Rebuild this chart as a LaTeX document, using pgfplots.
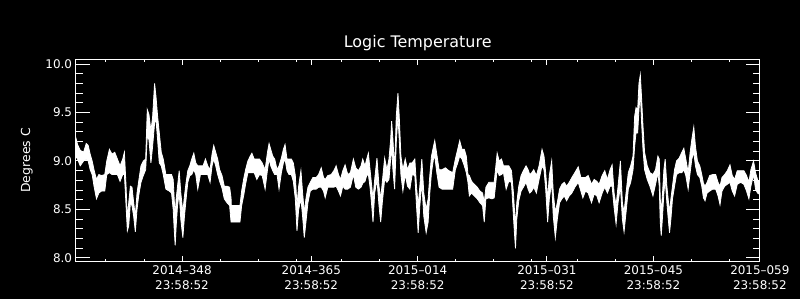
\documentclass[border=0pt]{standalone}
\usepackage{pgfplots}
\pgfplotsset{compat=1.18}
\usepackage{pgfplotstable}
\usepgfplotslibrary{fillbetween}
\usepackage{fontspec}
\setmainfont{DejaVu Sans}

\pgfplotstableread{
d hi lo
334.00 9.25 9.05
334.26 9.17 9.02
334.61 9.11 8.95
335.05 9.09 9.00
335.40 9.18 9.02
335.66 9.16 9.00
335.92 9.07 8.91
336.18 9.00 8.86
336.45 8.90 8.73
336.75 8.81 8.61
337.06 8.86 8.67
337.41 8.85 8.69
337.84 8.86 8.69
338.10 9.00 8.86
338.45 9.12 8.88
338.80 9.07 8.86
339.15 9.09 8.86
339.50 9.02 8.86
339.85 8.95 8.79
340.20 9.02 8.86
340.42 9.09 8.86
340.64 8.74 8.54
340.81 8.40 8.28
340.99 8.57 8.33
341.21 8.74 8.57
341.42 8.73 8.54
341.64 8.57 8.43
341.86 8.43 8.27
342.08 8.67 8.50
342.30 8.79 8.64
342.60 8.95 8.78
342.91 9.00 8.85
343.22 9.02 8.91
343.43 9.53 9.26
343.65 9.48 9.22
343.91 9.31 8.98
344.13 9.45 9.15
344.39 9.80 9.39
344.57 9.67 9.43
344.79 9.46 9.22
345.01 9.29 8.98
345.27 9.09 8.95
345.53 9.02 8.86
345.88 8.86 8.71
346.32 8.86 8.69
346.62 8.86 8.67
346.84 8.81 8.50
346.97 8.61 8.30
347.10 8.43 8.13
347.23 8.61 8.33
347.41 8.74 8.54
347.63 8.90 8.67
347.84 8.67 8.40
348.11 8.47 8.21
348.32 8.64 8.43
348.54 8.78 8.61
348.76 8.90 8.78
349.02 8.95 8.85
349.28 9.02 8.86
349.55 9.08 8.91
349.81 8.98 8.86
350.07 8.95 8.71
350.42 8.95 8.86
350.77 8.95 8.86
351.08 9.02 8.86
351.38 8.95 8.86
351.69 8.91 8.78
351.95 9.07 8.95
352.17 9.16 9.02
352.43 9.09 8.95
352.69 9.02 8.86
352.95 8.91 8.79
353.26 8.85 8.72
353.56 8.74 8.61
353.91 8.74 8.57
354.26 8.73 8.54
354.45 8.62 8.37
354.48 8.54 8.37
355.05 8.54 8.37
355.62 8.54 8.37
355.84 8.69 8.54
356.10 8.81 8.64
356.36 8.91 8.76
356.66 9.00 8.88
356.97 9.05 8.88
357.19 9.08 8.88
357.49 9.02 8.88
357.84 9.02 8.81
358.19 9.02 8.86
358.54 8.98 8.85
358.93 8.91 8.71
359.24 9.09 8.91
359.45 9.18 9.02
359.67 9.12 8.95
359.93 9.05 8.90
360.19 9.02 8.86
360.50 8.91 8.86
360.76 8.95 8.71
361.07 9.03 8.88
361.33 9.12 8.98
361.55 9.17 9.02
361.81 9.02 8.90
362.07 9.02 8.86
362.38 9.02 8.86
362.64 8.98 8.79
362.90 8.85 8.61
363.12 8.54 8.28
363.34 8.74 8.50
363.64 8.90 8.61
363.86 8.67 8.43
364.08 8.47 8.21
364.30 8.61 8.37
364.56 8.73 8.57
364.87 8.78 8.69
365.22 8.83 8.71
365.65 8.83 8.71
365.96 8.86 8.73
366.31 8.93 8.73
366.61 8.83 8.69
366.83 8.81 8.62
367.18 8.85 8.73
367.62 8.86 8.73
367.97 8.90 8.73
368.27 8.95 8.74
368.58 8.86 8.69
368.84 8.81 8.64
369.15 8.90 8.74
369.45 8.96 8.71
369.80 8.86 8.71
370.15 8.88 8.73
370.54 9.02 8.86
370.85 8.93 8.73
371.20 8.90 8.71
371.55 8.95 8.73
371.77 9.02 8.77
372.07 8.95 8.79
372.29 9.02 8.85
372.51 9.08 8.86
372.73 8.91 8.73
372.95 8.74 8.54
373.12 8.61 8.37
373.34 8.81 8.67
373.64 9.03 8.81
373.91 8.74 8.54
374.13 8.61 8.37
374.34 8.78 8.57
374.65 9.03 8.81
374.95 8.91 8.78
375.22 9.02 8.81
375.44 9.22 9.02
375.57 9.41 9.15
375.74 9.22 8.91
375.96 8.91 8.71
376.18 9.46 9.19
376.40 9.70 9.46
376.57 9.46 9.22
376.79 9.05 8.86
377.05 8.91 8.69
377.36 9.02 8.86
377.66 8.91 8.74
377.97 8.98 8.71
378.27 8.98 8.86
378.62 9.02 8.85
378.84 8.74 8.54
379.06 8.54 8.26
379.28 8.74 8.54
379.54 9.02 8.78
379.80 8.67 8.43
380.11 8.50 8.26
380.37 8.61 8.37
380.59 8.85 8.67
380.81 9.05 8.88
381.07 9.15 9.02
381.24 9.21 9.05
381.51 9.07 8.88
381.81 8.91 8.73
382.20 8.91 8.71
382.64 8.93 8.71
383.08 8.90 8.71
383.60 8.88 8.71
383.95 9.02 8.91
384.26 9.12 8.98
384.52 9.21 9.05
384.82 9.12 9.02
385.13 9.12 8.95
385.39 9.05 8.88
385.61 8.86 8.78
385.79 8.85 8.64
386.09 8.79 8.67
386.44 8.76 8.64
386.83 8.73 8.61
387.18 8.69 8.57
387.53 8.67 8.54
387.75 8.57 8.37
387.97 8.73 8.61
388.36 8.78 8.62
388.76 8.78 8.61
389.06 8.78 8.62
389.28 8.95 8.78
389.45 9.08 8.91
389.72 9.00 8.85
390.02 9.02 8.86
390.28 8.95 8.88
390.63 8.95 8.71
390.98 8.95 8.79
391.33 8.90 8.78
391.59 8.67 8.43
391.72 8.50 8.26
391.86 8.33 8.10
392.03 8.57 8.40
392.29 8.74 8.59
392.60 8.85 8.69
392.90 8.90 8.73
393.25 8.95 8.78
393.52 8.91 8.71
393.73 8.86 8.67
394.00 8.88 8.69
394.26 8.91 8.73
394.61 8.85 8.67
394.96 8.95 8.81
395.35 9.12 8.95
395.61 9.05 8.91
395.83 8.88 8.71
396.09 8.61 8.37
396.31 8.85 8.61
396.62 9.00 8.78
396.83 8.67 8.43
397.10 8.47 8.21
397.36 8.57 8.40
397.66 8.71 8.57
397.97 8.76 8.61
398.28 8.78 8.64
398.58 8.74 8.59
398.93 8.78 8.64
399.28 8.83 8.67
399.67 8.88 8.73
400.11 8.94 8.78
400.46 8.83 8.69
400.72 8.83 8.62
401.07 8.83 8.69
401.42 8.85 8.67
401.86 8.76 8.57
402.21 8.81 8.66
402.56 8.79 8.64
402.86 8.76 8.57
403.26 8.85 8.67
403.60 8.90 8.73
403.95 8.81 8.67
404.30 8.91 8.74
404.57 8.96 8.74
404.83 8.67 8.52
405.09 8.54 8.35
405.35 8.74 8.57
405.66 9.00 8.74
405.92 8.57 8.40
406.14 8.47 8.27
406.40 8.67 8.47
406.70 8.88 8.71
407.01 8.95 8.78
407.32 9.05 8.91
407.53 9.46 9.15
407.71 9.55 9.29
407.93 9.53 9.29
408.10 9.80 9.53
408.28 9.89 9.70
408.45 9.64 9.39
408.63 9.36 9.12
408.84 9.09 8.91
409.19 8.95 8.81
409.54 8.88 8.74
409.94 8.86 8.64
410.28 8.91 8.76
410.59 9.05 8.88
410.77 9.02 8.74
410.90 8.61 8.37
411.03 8.47 8.23
411.20 8.67 8.43
411.38 8.91 8.67
411.55 9.02 8.81
411.77 8.74 8.57
411.99 8.57 8.37
412.12 8.47 8.26
412.30 8.61 8.40
412.51 8.74 8.61
412.78 8.91 8.74
413.04 9.00 8.86
413.39 9.03 8.88
413.74 9.09 8.88
414.00 9.13 8.91
414.26 9.02 8.85
414.57 8.88 8.71
414.83 9.09 8.88
415.05 9.22 9.02
415.31 9.35 9.09
415.53 9.15 8.95
415.79 9.00 8.86
416.10 8.95 8.83
416.36 8.86 8.74
416.58 8.77 8.62
416.79 8.74 8.59
417.06 8.78 8.67
417.40 8.85 8.69
417.80 8.86 8.71
418.19 8.86 8.71
418.50 8.78 8.64
418.76 8.74 8.55
419.02 8.83 8.69
419.37 8.86 8.74
419.72 8.90 8.76
420.07 8.96 8.78
420.37 8.85 8.69
420.68 8.81 8.64
421.03 8.90 8.76
421.47 8.90 8.78
421.90 8.90 8.76
422.25 8.85 8.69
422.56 8.78 8.61
422.82 8.91 8.74
423.17 9.00 8.86
423.43 8.88 8.71
423.69 8.81 8.67
423.87 8.78 8.66
}\tempdata

\begin{document}
\pagecolor{black}
\begin{tikzpicture}
\path (0,0) rectangle (800pt,300pt);
\begin{axis}[
  at={(72.7pt,37.3pt)}, anchor=south west,
  scale only axis, width=687pt, height=203.4pt,
  xmin=334, xmax=424, ymin=7.962, ymax=10.051,
  axis line style={white, line width=1pt},
  tick style={white, line width=1pt},
  tick align=inside,
  xtick={348,365,379,396,410,424},
  xticklabels={{2014--348\\23:58:52},{2014--365\\23:58:52},{2015--014\\23:58:52},{2015--031\\23:58:52},{2015--045\\23:58:52},{2015--059\\23:58:52}},
  minor xtick={338,343,353,358,363,369,374,384,389,394,400,405,415,420},
  ytick={8,8.5,9,9.5,10},
  minor y tick num=4,
  xtick style={/pgfplots/major tick length=6pt, /pgfplots/minor tick length=3pt},
  ytick style={/pgfplots/major tick length=14pt, /pgfplots/minor tick length=7pt},
  /pgf/number format/assume math mode=true,
  yticklabel style={/pgf/number format/fixed, /pgf/number format/fixed zerofill, /pgf/number format/precision=1},
  tick label style={white, font=\fontsize{12}{15.3}\selectfont},
  xticklabel style={align=center},
  title={Logic Temperature},
  title style={white, font=\fontsize{16}{18}\selectfont, at={(axis description cs:0.5,1)}, anchor=base, yshift=6pt},
  ylabel={Degrees C},
  ylabel style={white, font=\fontsize{12.5}{14}\selectfont, at={(axis description cs:-0.0665,0.5)}, anchor=base},
]
\addplot[white, line width=0.8pt, name path=H] table[x=d, y=hi] {\tempdata};
\addplot[white, line width=0.8pt, name path=L] table[x=d, y=lo] {\tempdata};
\addplot[white] fill between[of=H and L];
\end{axis}
\pgfresetboundingbox
\path[use as bounding box] (0,0) rectangle (800pt,300pt);
\end{tikzpicture}
\end{document}
